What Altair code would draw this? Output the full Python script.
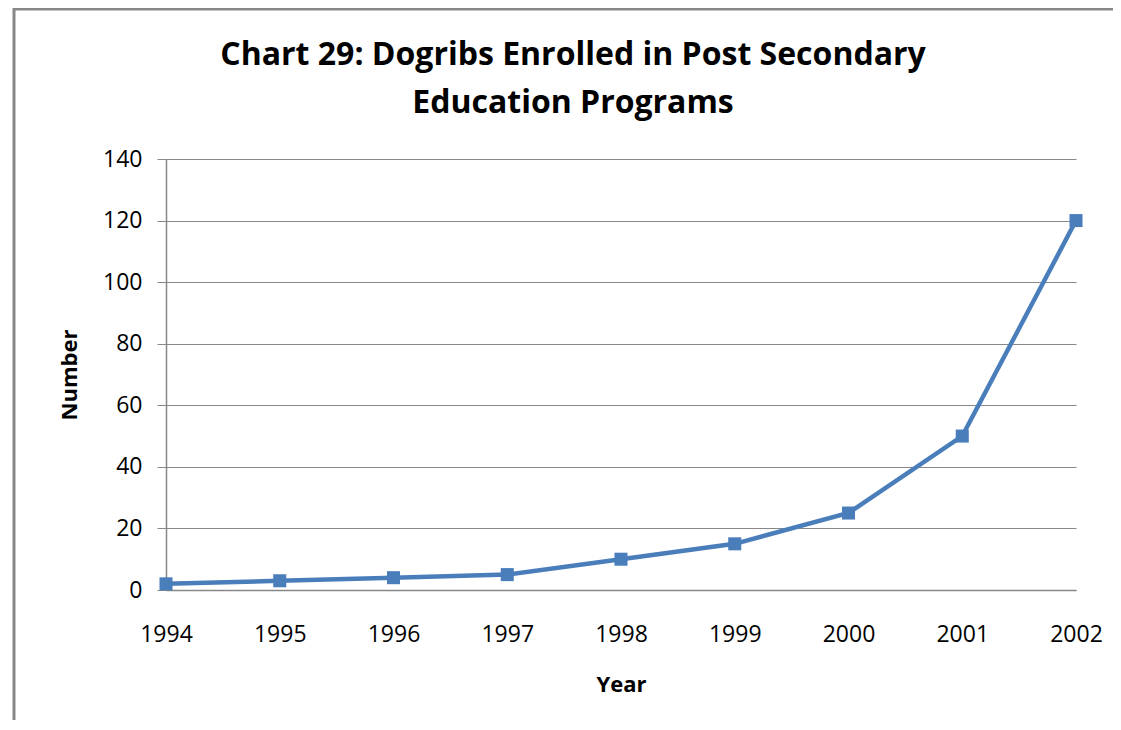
import altair as alt
import pandas as pd

years = ["1994", "1995", "1996", "1997", "1998", "1999", "2000", "2001", "2002"]
enrolled = [2, 3, 4, 5, 10, 15, 25, 50, 120]
title_lines = ["Chart 29: Dogribs Enrolled in Post Secondary", "Education Programs"]

df = pd.DataFrame({"Year": years, "Number": enrolled})

W, H = 910, 431
BLUE = "#4A7EBB"
GRID = "#888888"

base = alt.Chart(df).encode(
    x=alt.X("Year:N", sort=years,
            scale=alt.Scale(type="point", padding=0),
            axis=alt.Axis(title="Year", labelAngle=0, ticks=False,
                          labelPadding=33, titlePadding=28,
                          domainColor=GRID, domainWidth=1.5)),
    y=alt.Y("Number:Q", scale=alt.Scale(domain=[0, 140], nice=False),
            axis=alt.Axis(title="Number", values=list(range(0, 141, 20)),
                          tickSize=9, tickColor=GRID, labelPadding=15,
                          titlePadding=21, grid=True, gridColor=GRID,
                          gridWidth=1, domainColor=GRID, domainWidth=1.5)),
)

line = base.mark_line(color=BLUE, strokeWidth=4.5)
pts = base.mark_point(shape="square", filled=True, size=170, color=BLUE, opacity=1)

frame = alt.Chart(alt.Data(values=[{}])).mark_rect(
    fill=None, stroke="#878787", strokeWidth=3
).encode(
    x=alt.value(-152), y=alt.value(-150),
    x2=alt.value(W + 200), y2=alt.value(H + 300)
)

title1 = alt.Chart(alt.Data(values=[{"t": title_lines[0]}])).mark_text(
    font="Open Sans", fontSize=32, fontWeight="bold", color="#000000",
    align="center", baseline="alphabetic"
).encode(text="t:N", x=alt.value(407), y=alt.value(-94))

title2 = alt.Chart(alt.Data(values=[{"t": title_lines[1]}])).mark_text(
    font="Open Sans", fontSize=32, fontWeight="bold", color="#000000",
    align="center", baseline="alphabetic"
).encode(text="t:N", x=alt.value(407), y=alt.value(-46))

chart = alt.layer(frame, title1, title2, line, pts).properties(
    width=W, height=H,
    autosize=alt.AutoSizeParams(type="none"),
    padding={"left": 158, "top": 151, "right": 37, "bottom": 130},
).configure_view(stroke=None).configure_axis(
    labelFont="Open Sans", labelFontSize=23, labelColor="#000000",
    titleFont="Open Sans", titleFontSize=22, titleFontWeight="bold",
    titleColor="#000000",
)

chart.save("out.html", embed_options={"renderer": "svg", "actions": False})
